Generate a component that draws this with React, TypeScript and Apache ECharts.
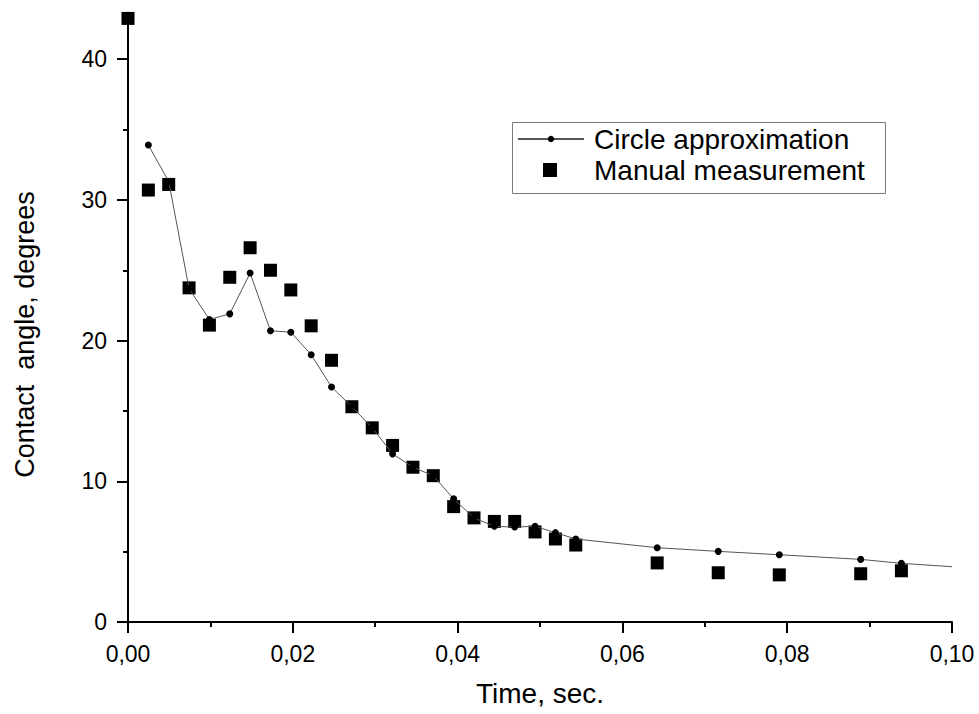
import React, { useEffect, useRef } from "react";
import * as echarts from "echarts";

const FONT = "'Liberation Sans', Arial, sans-serif";

// Circle approximation (line + dots)
const circleTimes = [0.00247, 0.00494, 0.00741, 0.00988, 0.01235, 0.01482, 0.01729, 0.01976, 0.02223, 0.0247, 0.02717, 0.02964, 0.03211, 0.03458, 0.03705, 0.03952, 0.04199, 0.04446, 0.04693, 0.0494, 0.05187, 0.05434, 0.06422, 0.07163, 0.07904, 0.08892, 0.09386];
const circleValues = [33.9, 31.3, 23.7, 21.5, 21.9, 24.8, 20.7, 20.6, 19.0, 16.7, 15.3, 13.8, 11.95, 11.0, 10.4, 8.75, 7.4, 6.8, 6.75, 6.8, 6.35, 5.9, 5.28, 5.02, 4.78, 4.45, 4.17];
// the line continues to the right edge of the plot
const circleTailTime = 0.1;
const circleTailValue = 3.93;

// Manual measurement (squares)
const manualTimes = [0, 0.00247, 0.00494, 0.00741, 0.00988, 0.01235, 0.01482, 0.01729, 0.01976, 0.02223, 0.0247, 0.02717, 0.02964, 0.03211, 0.03458, 0.03705, 0.03952, 0.04199, 0.04446, 0.04693, 0.0494, 0.05187, 0.05434, 0.06422, 0.07163, 0.07904, 0.08892, 0.09386];
const manualValues = [42.9, 30.7, 31.1, 23.75, 21.1, 24.5, 26.6, 25.0, 23.6, 21.05, 18.6, 15.3, 13.8, 12.55, 11.0, 10.4, 8.2, 7.4, 7.15, 7.15, 6.4, 5.9, 5.47, 4.2, 3.5, 3.35, 3.43, 3.64];

const yMajorTicks = [0, 10, 20, 30, 40];

const seriesNames = ["Circle approximation", "Manual measurement"];
const xAxisTitle = "Time, sec.";
const yAxisTitle = "Contact  angle, degrees";

export default function App() {
  const ref = useRef<HTMLDivElement>(null);

  useEffect(() => {
    if (!ref.current) return;
    const chart = echarts.init(ref.current, null, { renderer: "svg" });

    const lineData: any[] = circleTimes.map((t, i) => [t, circleValues[i]]);
    lineData.push({ value: [circleTailTime, circleTailValue], symbol: "none" });
    const scatterData = manualTimes.map((t, i) => [t, manualValues[i]]);

    const black = "#000";
    chart.setOption({
      animation: false,
      textStyle: { fontFamily: FONT, color: black },
      grid: { left: 128, right: 27, top: 17, bottom: 92, containLabel: false, outerBoundsMode: "none" },
      legend: [
        {
          left: 517,
          top: 125,
          padding: 0,
          itemWidth: 66,
          itemHeight: 8,
          data: [seriesNames[0]],
          selectedMode: false,
          textStyle: { fontSize: 28, color: black, fontFamily: FONT, padding: [0, 0, 0, 5] },
        },
        {
          left: 543,
          top: 156,
          padding: 0,
          itemWidth: 14,
          itemHeight: 14,
          icon: "rect",
          data: [seriesNames[1]],
          selectedMode: false,
          textStyle: { fontSize: 28, color: black, fontFamily: FONT, padding: [0, 0, 0, 32] },
        },
      ],
      graphic: [
        {
          type: "rect",
          shape: { x: 512.5, y: 122.5, width: 373, height: 71 },
          style: { fill: "none", stroke: "#7a7a7a", lineWidth: 1 },
        },
      ],
      xAxis: {
        type: "value",
        min: 0,
        max: 0.1,
        interval: 0.02,
        axisLine: { show: true, onZero: false, lineStyle: { color: black, width: 2 } },
        axisTick: { show: true, inside: false, length: 11, lineStyle: { color: black, width: 2 } },
        minorTick: { show: true, splitNumber: 2, length: 5, lineStyle: { color: black, width: 2 } },
        splitLine: { show: false },
        minorSplitLine: { show: false },
        axisLabel: {
          fontSize: 23,
          color: black,
          fontFamily: FONT,
          margin: 20,
          formatter: (v: number) => v.toFixed(2).replace(".", ","),
        },
        name: xAxisTitle,
        nameLocation: "middle",
        nameGap: 57,
        nameTextStyle: { fontSize: 28, color: black, fontFamily: FONT },
      },
      yAxis: {
        type: "value",
        min: 0,
        max: 43,
        interval: 10,
        axisLine: { show: true, onZero: false, lineStyle: { color: black, width: 2 } },
        axisTick: { show: true, inside: false, length: 11, customValues: yMajorTicks, lineStyle: { color: black, width: 2 } },
        minorTick: { show: true, splitNumber: 2, length: 5, lineStyle: { color: black, width: 2 } },
        splitLine: { show: false },
        minorSplitLine: { show: false },
        axisLabel: {
          fontSize: 23,
          color: black,
          fontFamily: FONT,
          margin: 21,
          customValues: yMajorTicks,
        },
        name: yAxisTitle,
        nameLocation: "middle",
        nameGap: 90,
        nameRotate: 90,
        nameTextStyle: { fontSize: 27, color: black, fontFamily: FONT, padding: [0, 30, 0, 0] },
      },
      series: [
        {
          name: seriesNames[0],
          type: "line",
          data: lineData,
          symbol: "circle",
          symbolSize: 7,
          showSymbol: true,
          itemStyle: { color: black },
          lineStyle: { color: "#555", width: 1 },
        },
        {
          name: seriesNames[1],
          type: "scatter",
          data: scatterData,
          symbol: "rect",
          symbolSize: 13,
          itemStyle: { color: black, opacity: 1 },
        },
      ],
    });

    return () => chart.dispose();
  }, []);

  return (
    <div
      ref={ref}
      style={{ position: "fixed", left: 0, top: 0, width: 979, height: 714, background: "#fff" }}
    />
  );
}
